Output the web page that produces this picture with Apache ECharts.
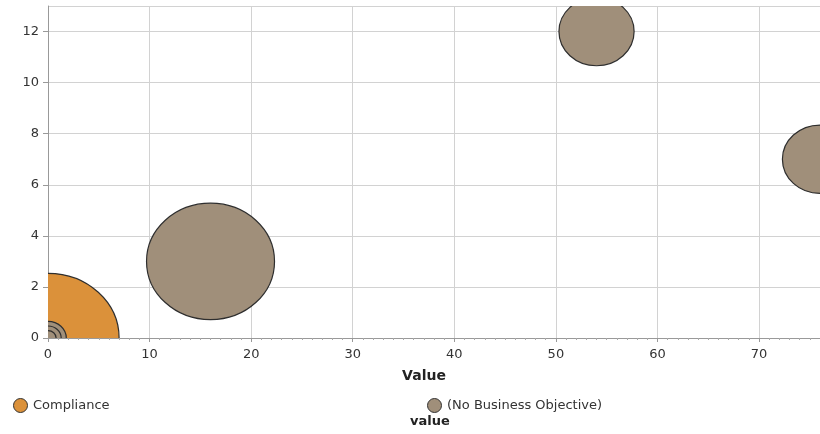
<!DOCTYPE html>
<html>
<head>
<meta charset="utf-8">
<script src="https://cdn.jsdelivr.net/npm/echarts@6/dist/echarts.min.js"></script>
<style>
  html, body { margin: 0; padding: 0; background: #fff; }
  #chart1 { width: 820px; height: 434px; }
</style>
</head>
<body>
<div id="chart1"></div>
<script>
// bubbles: [x, y, size (diameter in x-axis units)]
var complianceData = [
    [0, 0, 14]
];
var noObjectiveData = [
    [16, 3, 12.6],
    [54, 12, 7.4],
    [76, 7, 7.4],
    [0, 0, 3.6],
    [0, 0, 2.6],
    [0, 0, 1.6]
];
var seriesNames = ['Compliance', '(No Business Objective)'];
var yTicks = [0, 2, 4, 6, 8, 10, 12];

var font = 'DejaVu Sans';

function renderBubble(params, api) {
    var c = api.coord([api.value(0), api.value(1)]);
    var s = api.size([api.value(2), 0]);
    var rx = s[0] / 2;
    var st = api.style();
    return {
        type: 'ellipse',
        shape: {cx: c[0], cy: c[1], rx: rx, ry: rx * 0.91},
        style: {fill: st.fill, stroke: '#2e2e2e', lineWidth: 1.2}
    };
}

var dom = document.getElementById("chart1");
var myChart = echarts.init(dom);

option = {
    animation: false,
    textStyle: {fontFamily: font},
    grid: {left: 48, top: 6, right: 0, bottom: 96},
    legend: [
        {
            data: [seriesNames[0]],
            left: 8, top: 393,
            icon: 'circle', itemWidth: 15, itemHeight: 14,
            itemStyle: {borderColor: '#333', borderWidth: 1},
            textStyle: {fontFamily: font, fontSize: 13, color: '#333'}
        },
        {
            data: [seriesNames[1]],
            left: 422, top: 393,
            icon: 'circle', itemWidth: 15, itemHeight: 14,
            itemStyle: {borderColor: '#333', borderWidth: 1},
            textStyle: {fontFamily: font, fontSize: 13, color: '#333'}
        }
    ],
    graphic: [
        {
            type: 'text', left: 410, top: 415,
            style: {text: 'value', font: 'bold 13px "DejaVu Sans"', fill: '#222'}
        }
    ],
    xAxis: {
        type: 'value',
        min: 0, max: 76, interval: 10,
        name: 'Value', nameLocation: 'middle', nameGap: 31,
        nameTextStyle: {fontFamily: font, fontSize: 14, fontWeight: 'bold', color: '#222', padding: [0, 20, 0, 0]},
        axisLine: {lineStyle: {color: '#999'}},
        axisTick: {length: 4, lineStyle: {color: '#999'}},
        minorTick: {show: true, splitNumber: 10, length: 2, lineStyle: {color: '#aaa'}},
        axisLabel: {fontFamily: font, fontSize: 13, color: '#333', margin: 10, showMaxLabel: false},
        splitLine: {lineStyle: {color: '#d2d2d2'}}
    },
    yAxis: {
        type: 'value',
        min: 0, max: 13, interval: 2,
        axisLine: {show: true, lineStyle: {color: '#999'}},
        axisTick: {show: true, length: 5, lineStyle: {color: '#999'}},
        axisLabel: {
            fontFamily: font, fontSize: 13, color: '#333', margin: 9, showMaxLabel: false,
            formatter: function (v) { return yTicks.indexOf(v) >= 0 ? String(v) : ''; }
        },
        splitLine: {lineStyle: {color: '#d2d2d2'}}
    },
    series: [
        {
            name: seriesNames[0],
            type: 'custom',
            clip: true,
            renderItem: renderBubble,
            itemStyle: {color: '#DB913A', borderColor: '#333', borderWidth: 1},
            encode: {x: 0, y: 1},
            data: complianceData
        },
        {
            name: seriesNames[1],
            type: 'custom',
            clip: true,
            renderItem: renderBubble,
            itemStyle: {color: '#A08F7A', borderColor: '#333', borderWidth: 1},
            encode: {x: 0, y: 1},
            data: noObjectiveData
        }
    ]
};

if (option && typeof option === "object") {
    myChart.setOption(option, true);
}
</script>
</body>
</html>
